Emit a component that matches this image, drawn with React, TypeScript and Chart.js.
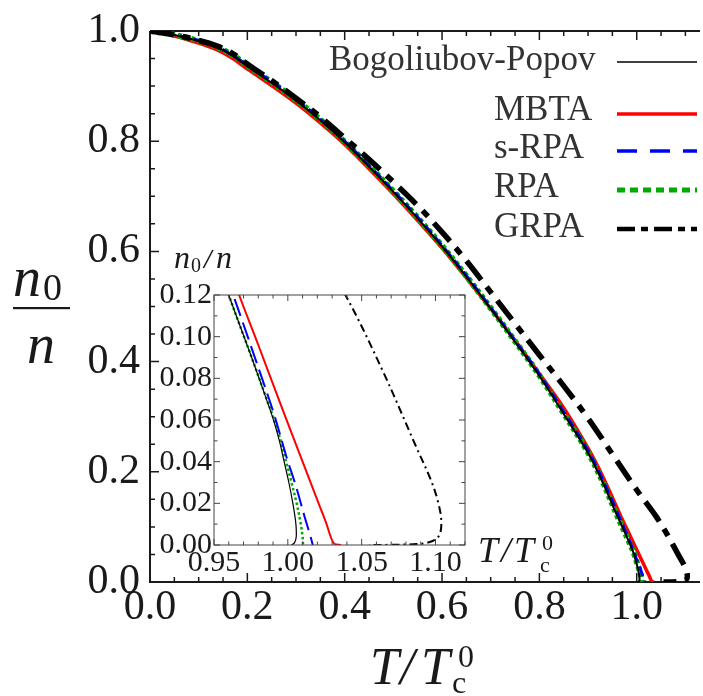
import React, { useEffect, useRef } from "react";
import { Chart, registerables } from "chart.js";
Chart.register(...registerables);

// ---------- data ----------
const seriesNames = ["Bogoliubov-Popov", "MBTA", "s-RPA", "RPA", "GRPA"];

const bpT = [0, 0.05, 0.1, 0.137, 0.17, 0.205, 0.25, 0.3, 0.35, 0.4, 0.45, 0.5, 0.55, 0.6, 0.65, 0.7, 0.75, 0.8, 0.85, 0.9, 0.93, 0.96, 0.9755, 0.9855, 0.9903, 0.9943, 0.9975, 1.0007, 1.0034, 1.0054, 1.0057, 1.0045, 1.0025];
const bpN = [1, 0.993, 0.982, 0.971, 0.955, 0.933, 0.906, 0.874, 0.838, 0.798, 0.754, 0.708, 0.66, 0.609, 0.554, 0.496, 0.436, 0.374, 0.305, 0.234, 0.181, 0.12, 0.09, 0.07, 0.06, 0.05, 0.04, 0.03, 0.02, 0.0105, 0.004, 0.001, 0];

const mbtaT = [0, 0.05, 0.1, 0.137, 0.17, 0.205, 0.25, 0.3, 0.35, 0.4, 0.45, 0.5, 0.55, 0.6, 0.65, 0.7, 0.75, 0.8, 0.85, 0.9, 0.93, 0.967, 0.98, 0.997, 1.01, 1.02, 1.026, 1.029, 1.0315, 1.036];
const mbtaN = [1, 0.991, 0.978, 0.966, 0.95, 0.928, 0.901, 0.869, 0.833, 0.794, 0.75, 0.704, 0.656, 0.606, 0.552, 0.496, 0.438, 0.378, 0.316, 0.243, 0.192, 0.12, 0.096, 0.064, 0.04, 0.0215, 0.0105, 0.004, 0.0006, 0];

const srpaT = [0, 0.05, 0.1, 0.137, 0.17, 0.205, 0.25, 0.3, 0.35, 0.4, 0.45, 0.5, 0.55, 0.6, 0.65, 0.7, 0.75, 0.8, 0.85, 0.9, 0.93, 0.963, 0.983, 0.991, 0.999, 1.0056, 1.0113, 1.015, 1.0169];
const srpaN = [1, 0.993, 0.983, 0.972, 0.956, 0.935, 0.908, 0.876, 0.84, 0.8, 0.756, 0.71, 0.662, 0.611, 0.556, 0.498, 0.438, 0.377, 0.309, 0.238, 0.186, 0.12, 0.079, 0.062, 0.0425, 0.028, 0.0137, 0.005, 0];

const rpaT = [0, 0.05, 0.1, 0.137, 0.17, 0.205, 0.25, 0.3, 0.35, 0.4, 0.45, 0.5, 0.55, 0.6, 0.65, 0.7, 0.75, 0.8, 0.85, 0.9, 0.93, 0.96, 0.9755, 0.9857, 0.9908, 0.9952, 0.9988, 1.0025, 1.006, 1.0088, 1.01, 1.0103];
const rpaN = [1, 0.993, 0.982, 0.971, 0.956, 0.934, 0.907, 0.875, 0.839, 0.799, 0.755, 0.709, 0.661, 0.61, 0.555, 0.497, 0.437, 0.375, 0.306, 0.235, 0.182, 0.12, 0.09, 0.07, 0.06, 0.05, 0.04, 0.03, 0.02, 0.01, 0.004, 0];

const grpaT = [0, 0.05, 0.1, 0.137, 0.17, 0.205, 0.25, 0.3, 0.35, 0.4, 0.45, 0.5, 0.55, 0.6, 0.65, 0.7, 0.75, 0.8, 0.85, 0.9, 0.95, 1.0, 1.039, 1.064, 1.087, 1.097, 1.102, 1.104, 1.102, 1.095, 1.085, 1.07, 1.055];
const grpaN = [1, 0.993, 0.983, 0.973, 0.959, 0.937, 0.91, 0.878, 0.844, 0.806, 0.767, 0.726, 0.683, 0.635, 0.583, 0.526, 0.469, 0.412, 0.356, 0.297, 0.232, 0.167, 0.12, 0.084, 0.047, 0.031, 0.02, 0.0105, 0.004, 0.0012, 0.0004, 0.0001, 0];

const mainXRange = [0, 1.13];
const mainYRange = [0, 1];
const insetXRange = [0.95, 1.12];
const insetYRange = [0, 0.12];

// ---------- styles ----------
const SERIF = '"Liberation Serif", "Times New Roman", Times, "DejaVu Serif", serif';
const seriesData = [
  { t: bpT, n: bpN },
  { t: mbtaT, n: mbtaN },
  { t: srpaT, n: srpaN },
  { t: rpaT, n: rpaN },
  { t: grpaT, n: grpaN },
];
const seriesStyle = [
  { color: "#000000", mainW: 2, mainDash: [], insetW: 1.2, insetDash: [], legW: 1.5, legDash: [] },
  { color: "#ff0000", mainW: 3.5, mainDash: [], insetW: 2, insetDash: [], legW: 3.5, legDash: [] },
  { color: "#0000ff", mainW: 3, mainDash: [10, 5], insetW: 2, insetDash: [18, 7], legW: 3.5, legDash: [20, 13] },
  { color: "#00aa00", mainW: 6, mainDash: [4, 3], insetW: 2.5, insetDash: [2.5, 2.5], legW: 5, legDash: [8, 5] },
  { color: "#000000", mainW: 5.5, mainDash: [24, 9, 8, 9], insetW: 2, insetDash: [8, 4, 2, 4], legW: 4.5, legDash: [18, 6, 7, 6] },
];
// draw order: BP on top, then GRPA, s-RPA, RPA, MBTA at the bottom
const drawOrder = [0, 4, 2, 3, 1];

function makeDatasets(kind: "main" | "inset") {
  return drawOrder.map((i) => {
    const s = seriesStyle[i];
    const d = seriesData[i];
    return {
      label: seriesNames[i],
      data: d.t.map((t, k) => ({ x: t, y: d.n[k] })),
      borderColor: s.color,
      backgroundColor: s.color,
      borderWidth: kind === "main" ? s.mainW : s.insetW,
      borderDash: kind === "main" ? s.mainDash : s.insetDash,
      pointRadius: 0,
      fill: false,
      tension: 0.35,
    };
  });
}

const near = (v: number, step: number) => Math.abs(v / step - Math.round(v / step)) < 1e-6;

const mainDecor = {
  id: "mainDecor",
  beforeDatasetsDraw(chart: any) {
    const { ctx, chartArea: a, scales } = chart;
    const x = scales.x, y = scales.y;
    ctx.save();
    ctx.strokeStyle = "#1a1a1a";
    ctx.lineWidth = 2;
    ctx.beginPath();
    ctx.moveTo(a.left, a.top);
    ctx.lineTo(a.right, a.top);
    ctx.moveTo(a.left, a.top);
    ctx.lineTo(a.left, a.bottom);
    ctx.lineTo(a.right, a.bottom);
    ctx.stroke();
    ctx.lineWidth = 1.5;
    ctx.beginPath();
    x.ticks.forEach((t: any) => {
      const px = x.getPixelForValue(t.value);
      const len = t.label ? 9 : 5;
      ctx.moveTo(px, a.bottom);
      ctx.lineTo(px, a.bottom - len);
      ctx.moveTo(px, a.top);
      ctx.lineTo(px, a.top + len);
    });
    y.ticks.forEach((t: any) => {
      const py = y.getPixelForValue(t.value);
      const len = t.label ? 9 : 5;
      ctx.moveTo(a.left, py);
      ctx.lineTo(a.left + len, py);
    });
    ctx.stroke();
    ctx.restore();
  },
  afterDraw(chart: any) {
    const { ctx } = chart;
    ctx.save();
    ctx.fillStyle = "#1a1a1a";
    ctx.textBaseline = "alphabetic";
    ctx.textAlign = "left";
    // x title  T/T_c^0
    ctx.font = `italic 52px ${SERIF}`;
    ctx.fillText("T", 370, 684);
    ctx.fillText("/", 400, 684);
    ctx.fillText("T", 421, 684);
    ctx.font = `32px ${SERIF}`;
    ctx.fillText("0", 458, 667);
    ctx.fillText("c", 452, 693);
    // y title  n_0 / n  as a fraction
    ctx.font = `italic 56px ${SERIF}`;
    ctx.fillText("n", 13, 296);
    ctx.fillText("n", 27, 363);
    ctx.font = `38px ${SERIF}`;
    ctx.fillText("0", 43, 300);
    ctx.fillRect(13, 307, 57, 2.2);
    // legend
    const rows = [
      { tx: 329, base: 70, ly: 62 },
      { tx: 494, base: 120, ly: 114 },
      { tx: 494, base: 158, ly: 151 },
      { tx: 494, base: 197, ly: 190 },
      { tx: 494, base: 237, ly: 229 },
    ];
    rows.forEach((r, i) => {
      const s = seriesStyle[i];
      ctx.font = `35px ${SERIF}`;
      ctx.fillStyle = "#333333";
      ctx.fillText(seriesNames[i], r.tx, r.base);
      ctx.strokeStyle = s.color;
      ctx.lineWidth = s.legW;
      ctx.setLineDash(s.legDash);
      ctx.beginPath();
      ctx.moveTo(617, r.ly);
      ctx.lineTo(697, r.ly);
      ctx.stroke();
      ctx.setLineDash([]);
    });
    ctx.restore();
  },
};

const insetDecor = {
  id: "insetDecor",
  beforeDraw(chart: any) {
    const { ctx, chartArea: a } = chart;
    ctx.save();
    ctx.fillStyle = "#ffffff";
    ctx.fillRect(a.left, a.top, a.right - a.left, a.bottom - a.top);
    ctx.restore();
  },
  afterDraw(chart: any) {
    const { ctx, chartArea: a, scales } = chart;
    const x = scales.x, y = scales.y;
    ctx.save();
    ctx.strokeStyle = "#444444";
    ctx.lineWidth = 1;
    ctx.strokeRect(a.left, a.top, a.right - a.left, a.bottom - a.top);
    ctx.beginPath();
    x.ticks.forEach((t: any) => {
      const px = x.getPixelForValue(t.value);
      const len = t.label ? 6 : 3.5;
      ctx.moveTo(px, a.bottom);
      ctx.lineTo(px, a.bottom - len);
      ctx.moveTo(px, a.top);
      ctx.lineTo(px, a.top + len);
    });
    y.ticks.forEach((t: any) => {
      const py = y.getPixelForValue(t.value);
      const len = t.label ? 6 : 3.5;
      ctx.moveTo(a.left, py);
      ctx.lineTo(a.left + len, py);
      ctx.moveTo(a.right, py);
      ctx.lineTo(a.right - len, py);
    });
    ctx.stroke();
    ctx.fillStyle = "#1a1a1a";
    ctx.textAlign = "left";
    ctx.textBaseline = "alphabetic";
    // n_0/n
    ctx.font = `italic 32px ${SERIF}`;
    ctx.fillText("n", 24, 18);
    ctx.fillText("/", 54, 18);
    ctx.fillText("n", 66, 18);
    ctx.font = `20px ${SERIF}`;
    ctx.fillText("0", 41, 22);
    // T/T_c^0
    ctx.font = `italic 36px ${SERIF}`;
    ctx.fillText("T", 328, 312);
    ctx.fillText("/", 351, 312);
    ctx.fillText("T", 364, 312);
    ctx.font = `22px ${SERIF}`;
    ctx.fillText("0", 392, 300);
    ctx.fillText("c", 390, 322);
    ctx.restore();
  },
};

export default function App() {
  const mainRef = useRef<HTMLCanvasElement>(null);
  const insetRef = useRef<HTMLCanvasElement>(null);

  useEffect(() => {
    const main = new Chart(mainRef.current as HTMLCanvasElement, {
      type: "line",
      data: { datasets: makeDatasets("main") as any },
      options: {
        responsive: false,
        animation: false,
        layout: { padding: { left: 0, top: 22, right: 0, bottom: 0 } },
        plugins: { legend: { display: false }, tooltip: { enabled: false } },
        scales: {
          x: {
            type: "linear",
            min: mainXRange[0],
            max: mainXRange[1],
            afterFit: (s: any) => { s.height = 114; },
            grid: { display: false, drawTicks: false },
            border: { display: false },
            ticks: {
              stepSize: 0.05,
              includeBounds: false,
              autoSkip: false,
              maxRotation: 0,
              minRotation: 0,
              padding: 1,
              color: "#1a1a1a",
              font: { family: SERIF, size: 42 },
              callback: (v: any) => (near(Number(v), 0.2) ? Number(v).toFixed(1) : ""),
            },
          },
          y: {
            type: "linear",
            min: mainYRange[0],
            max: mainYRange[1],
            afterFit: (s: any) => { s.width = 150; },
            grid: { display: false, drawTicks: false },
            border: { display: false },
            ticks: {
              stepSize: 0.05,
              autoSkip: false,
              padding: 10,
              color: "#1a1a1a",
              font: { family: SERIF, size: 42, lineHeight: 1 },
              callback: (v: any) => (near(Number(v), 0.2) ? Number(v).toFixed(1) : ""),
            },
          },
        },
      } as any,
      plugins: [mainDecor],
    });

    const inset = new Chart(insetRef.current as HTMLCanvasElement, {
      type: "line",
      data: { datasets: makeDatasets("inset") as any },
      options: {
        responsive: false,
        animation: false,
        layout: { padding: { left: 0, top: 45, right: 105, bottom: 0 } },
        plugins: { legend: { display: false }, tooltip: { enabled: false } },
        scales: {
          x: {
            type: "linear",
            min: insetXRange[0],
            max: insetXRange[1],
            afterFit: (s: any) => { s.height = 45; },
            grid: { display: false, drawTicks: false },
            border: { display: false },
            ticks: {
              stepSize: 0.01,
              includeBounds: false,
              autoSkip: false,
              maxRotation: 0,
              minRotation: 0,
              padding: 0,
              color: "#1a1a1a",
              font: { family: SERIF, size: 30 },
              callback: (v: any) => (near(Number(v), 0.05) ? Number(v).toFixed(2) : ""),
            },
          },
          y: {
            type: "linear",
            min: insetYRange[0],
            max: insetYRange[1],
            afterFit: (s: any) => { s.width = 64; },
            grid: { display: false, drawTicks: false },
            border: { display: false },
            ticks: {
              stepSize: 0.01,
              autoSkip: false,
              padding: 2,
              color: "#1a1a1a",
              font: { family: SERIF, size: 30, lineHeight: 1 },
              callback: (v: any) => (near(Number(v), 0.02) ? Number(v).toFixed(2) : ""),
            },
          },
        },
      } as any,
      plugins: [insetDecor],
    });

    let alive = true;
    const fs: any = (document as any).fonts;
    if (fs && fs.load) {
      Promise.all([
        fs.load('42px "Liberation Serif"'),
        fs.load('italic 42px "Liberation Serif"'),
      ])
        .catch(() => null)
        .then(() => {
          if (alive) {
            main.update();
            inset.update();
          }
        });
    }

    return () => {
      alive = false;
      main.destroy();
      inset.destroy();
    };
  }, []);

  return (
    <div style={{ position: "fixed", left: 0, top: 0, width: 703, height: 696, background: "#ffffff", fontFamily: SERIF }}>
      <canvas
        ref={mainRef}
        width={703}
        height={696}
        style={{ position: "absolute", left: 0, top: 0, width: 703, height: 696 }}
      />
      <canvas
        ref={insetRef}
        width={420}
        height={340}
        style={{ position: "absolute", left: 150, top: 250, width: 420, height: 340 }}
      />
    </div>
  );
}
